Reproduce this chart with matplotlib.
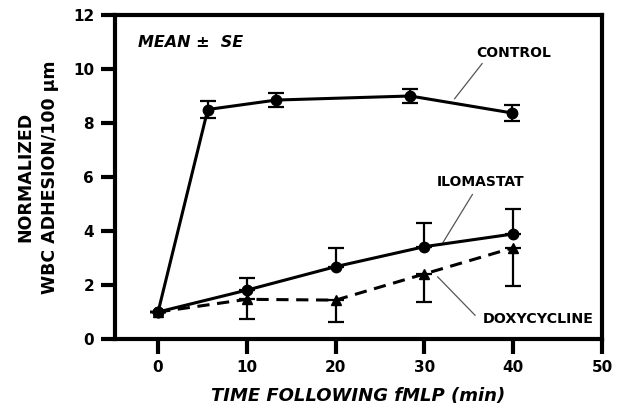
import numpy as np
import matplotlib.pyplot as plt

plt.rcParams['font.family'] = 'DejaVu Sans'
plt.rcParams['font.weight'] = 'bold'

# data
ctrl_t = [0, 5.6, 13.3, 28.4, 39.9]
ctrl_y = [1.0, 8.5, 8.85, 9.0, 8.37]
ctrl_se = [0, 0.32, 0.27, 0.27, 0.29]

ilo_t = [0, 10, 20, 30, 40]
ilo_y = [1.0, 1.81, 2.68, 3.42, 3.89]
ilo_se_up = [0, 0.46, 0.68, 0.86, 0.91]

doxy_t = [0, 10, 20, 30, 40]
doxy_y = [1.0, 1.47, 1.44, 2.41, 3.38]
doxy_se_dn = [0, 0.73, 0.8, 1.03, 1.41]

fig = plt.figure(figsize=(6.25, 4.08), dpi=100)
ax = fig.add_axes([115/625, 1 - 339/408, (602-115)/625, (339-15)/408])

ek = dict(ecolor='black', elinewidth=1.6, capsize=6, capthick=1.6)
ax.errorbar(ctrl_t, ctrl_y, yerr=ctrl_se, color='black', lw=2.2, marker='o', ms=7.5, **ek)
ax.errorbar(ilo_t, ilo_y, yerr=[np.zeros(5), ilo_se_up], color='black', lw=2.2,
            marker='o', ms=7.5, **ek)
ax.errorbar(doxy_t, doxy_y, yerr=[doxy_se_dn, np.zeros(5)], color='black', lw=2.2,
            ls=(0, (4, 2.5)), marker='^', ms=7.5, **ek)

ax.set_xlim(-4.85, 50)
ax.set_ylim(0, 12)
ax.set_xticks([0, 10, 20, 30, 40, 50])
ax.set_yticks([0, 2, 4, 6, 8, 10, 12])
for s in ax.spines.values():
    s.set_linewidth(3)
ax.tick_params(width=3, length=10, labelsize=11, pad=5)
ax.tick_params(axis='x', length=11, pad=4)
for lab in ax.get_xticklabels() + ax.get_yticklabels():
    lab.set_fontweight('bold')

ax.set_xlabel('TIME FOLLOWING fMLP (min)', fontsize=13, fontstyle='italic',
              fontweight='bold', labelpad=9)
ax.set_ylabel('NORMALIZED\nWBC ADHESION/100 µm', fontsize=12.5, fontweight='bold',
              labelpad=10, linespacing=1.45)

ax.text(-2.3, 11.0, 'MEAN ±  SE', fontsize=11.5, fontstyle='italic', fontweight='bold',
        va='center')

# labels with leader lines
ax.text(40.0, 10.6, 'CONTROL', fontsize=10, fontweight='bold', ha='center', va='center')
ax.plot([36.5, 33.4], [10.2, 8.9], color='#555555', lw=0.9)
ax.text(36.3, 5.8, 'ILOMASTAT', fontsize=10, fontweight='bold', ha='center', va='center')
ax.plot([35.4, 32.1], [5.35, 3.58], color='#555555', lw=0.9)
ax.text(42.8, 0.75, 'DOXYCYCLINE', fontsize=10.3, fontweight='bold', ha='center', va='center')
ax.plot([35.7, 31.5], [0.88, 2.3], color='#555555', lw=0.9)

fig.savefig('out.png', dpi=100)
